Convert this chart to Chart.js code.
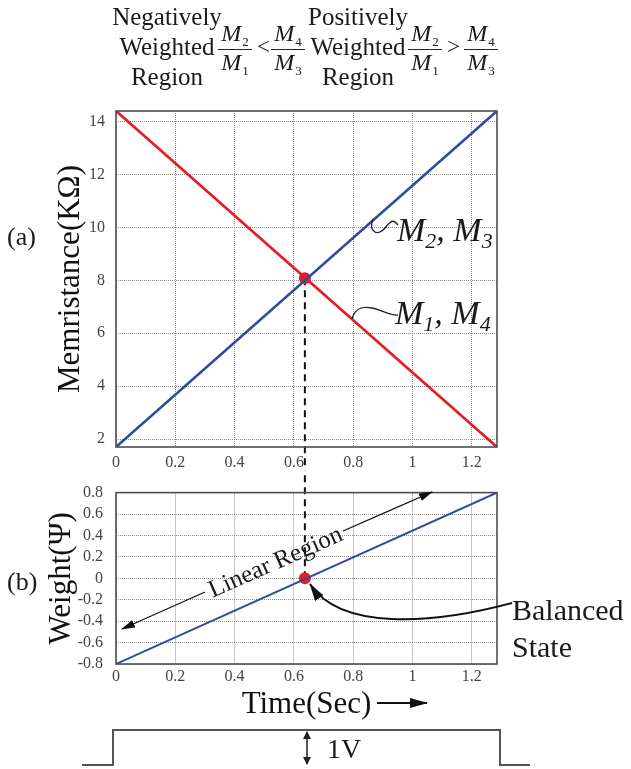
<!DOCTYPE html>
<html>
<head>
<meta charset="utf-8">
<script src="https://cdn.jsdelivr.net/npm/chart.js@4/dist/chart.umd.min.js"></script>
<style>
  html, body { margin: 0; padding: 0; background: #fff; }
  #page { position: relative; width: 631px; height: 769px; overflow: hidden;
          font-family: 'Liberation Serif', 'Times New Roman', serif; color: #1a1a1a; }
  canvas { position: absolute; left: 0; }
  #chartA { top: 0; }
  #chartB { top: 470px; }
  #marks { position: absolute; left: 0; top: 0; pointer-events: none; }
  .txt { position: absolute; white-space: nowrap; }
  .head { font-size: 25px; line-height: 30px; text-align: center; width: 130px; top: 2px; }
  .frac { position: absolute; width: 34px; top: 22px; text-align: center; font-size: 24px; line-height: 23px; }
  .frac .n { display: block; border-bottom: 1.2px solid #222; padding-bottom: 1px; }
  .frac .d { display: block; padding-top: 1px; }
  .frac sub { font-size: 13px; vertical-align: baseline; position: relative; top: 5px; margin-left: 1px; }
  .cmp { font-size: 23px; line-height: 22px; top: 36px; }
  .tag { font-size: 26px; line-height: 30px; }
  .mlab { font-size: 34px; line-height: 34px; font-style: italic; }
  .mlab sub { font-size: 22px; vertical-align: baseline; position: relative; top: 7px; }
</style>
</head>
<body>
<div id="page">
  <canvas id="chartA" width="631" height="470"></canvas>
  <canvas id="chartB" width="631" height="299"></canvas>

  <svg id="marks" width="631" height="769" viewBox="0 0 631 769">
    <defs>
      <marker id="headS" viewBox="0 0 14 8" refX="13" refY="4" markerWidth="14" markerHeight="8" markerUnits="userSpaceOnUse" orient="auto"><path d="M0,0 L14,4 L0,8 z" fill="#111"/></marker>
      <marker id="headL" viewBox="0 0 18 10" refX="17" refY="5" markerWidth="18" markerHeight="10" markerUnits="userSpaceOnUse" orient="auto"><path d="M0,0 L18,5 L0,10 z" fill="#111"/></marker>
      <marker id="headT" viewBox="0 0 8 8" refX="7" refY="4" markerWidth="8" markerHeight="8" markerUnits="userSpaceOnUse" orient="auto-start-reverse"><path d="M0,0 L8,4 L0,8 z" fill="#222"/></marker>
    </defs>
    <!-- leaders to the curve labels -->
    <path d="M373 219 C368 232 378 237 385 228 S394 220 398 225" fill="none" stroke="#222" stroke-width="1.3"/>
    <path d="M352 319 C355 308 362 306 372 308 S390 316 398 315" fill="none" stroke="#222" stroke-width="1.3"/>
    <!-- linear region arrow -->
    <line x1="205" y1="592" x2="122" y2="629" stroke="#111" stroke-width="1.3" marker-end="url(#headS)"/>
    <line x1="343" y1="531" x2="432" y2="492" stroke="#111" stroke-width="1.3" marker-end="url(#headS)"/>
    <!-- balanced state arrow -->
    <path d="M512 603 C430 625 340 630 310 584" fill="none" stroke="#111" stroke-width="2" marker-end="url(#headL)"/>
    <!-- time arrow -->
    <line x1="377" y1="703" x2="427" y2="703" stroke="#111" stroke-width="2.2" marker-end="url(#headL)"/>
    <!-- input pulse -->
    <polyline points="82,765 113,765 113,730 500,730 500,765 530,765" fill="none" stroke="#555" stroke-width="2"/>
    <line x1="307" y1="732" x2="307" y2="764" stroke="#222" stroke-width="1.5" marker-start="url(#headT)" marker-end="url(#headT)"/>
  </svg>

  <div class="txt head" style="left:102px;">Negatively<br>Weighted<br>Region</div>
  <div class="frac" style="left:218px;"><span class="n"><i>M</i><sub>2</sub></span><span class="d"><i>M</i><sub>1</sub></span></div>
  <div class="txt cmp" style="left:257px;">&lt;</div>
  <div class="frac" style="left:271px;"><span class="n"><i>M</i><sub>4</sub></span><span class="d"><i>M</i><sub>3</sub></span></div>
  <div class="txt head" style="left:293px;">Positively<br>Weighted<br>Region</div>
  <div class="frac" style="left:408px;"><span class="n"><i>M</i><sub>2</sub></span><span class="d"><i>M</i><sub>1</sub></span></div>
  <div class="txt cmp" style="left:447px;">&gt;</div>
  <div class="frac" style="left:464px;"><span class="n"><i>M</i><sub>4</sub></span><span class="d"><i>M</i><sub>3</sub></span></div>

  <div class="txt tag" style="left:7px; top:222px;">(a)</div>
  <div class="txt tag" style="left:7px; top:567px;">(b)</div>

  <div class="txt mlab" style="left:397px; top:213px;">M<sub>2</sub>, M<sub>3</sub></div>
  <div class="txt mlab" style="left:395px; top:296px;">M<sub>1</sub>, M<sub>4</sub></div>

  <div class="txt" style="left:275px; top:561px; font-size:25px; line-height:25px; transform:translate(-50%,-50%) rotate(-23.8deg);">Linear Region</div>
  <div class="txt" style="left:512px; top:591px; font-size:30px; line-height:37px;">Balanced<br>State</div>
  <div class="txt" style="left:327px; top:735px; font-size:28px; line-height:28px;">1V</div>
</div>

<script>
// time axis (s)
const timeSpan = [0, 1.285];
// memristance (kOhm) at the start and end of the pulse
const memM1M4 = [14.4, 1.7];
const memM2M3 = [1.7, 14.4];
// synaptic weight
const weightSeries = [-0.8, 0.8];
// balanced state
const balancedTime = 0.637;
const balancedMem = 8.08;
const balancedWeight = 0;

const timeTicks = [0, 0.2, 0.4, 0.6, 0.8, 1, 1.2];
const memTicks = [2, 4, 6, 8, 10, 12, 14];
const weightTicks = [-0.8, -0.6, -0.4, -0.2, 0, 0.2, 0.4, 0.6, 0.8];

const red = '#e41e26';
const blue = '#2f4c9e';
const serif = 'Liberation Serif';

function toPoints(xs, ys) {
    return xs.map((x, i) => ({ x: x, y: ys[i] }));
}

function useTicks(values) {
    return scale => { scale.ticks = values.map(v => ({ value: v })); };
}

const tickFont = { family: serif, size: 16 };
const gridStyle = { color: '#8f8f8f', lineWidth: 1, drawTicks: false };
const gridBorder = { display: false, dash: [1, 1] };

// box round the plot area
const boxPlugin = {
    id: 'box',
    afterDraw(chart) {
        const { ctx, chartArea: a } = chart;
        ctx.save();
        ctx.strokeStyle = '#4d4d4d';
        ctx.lineWidth = 1.6;
        ctx.strokeRect(a.left, a.top, a.right - a.left, a.bottom - a.top);
        ctx.restore();
    }
};

// dashed line joining the two balanced points
function guide(yValue, downward) {
    return {
        id: 'guide',
        beforeDatasetsDraw(chart) {
            const { ctx, scales } = chart;
            const px = scales.x.getPixelForValue(balancedTime);
            const py = scales.y.getPixelForValue(yValue);
            ctx.save();
            ctx.setLineDash([7, 5]);
            ctx.strokeStyle = '#111';
            ctx.lineWidth = 2;
            ctx.beginPath();
            ctx.moveTo(px, py);
            ctx.lineTo(px, downward ? chart.height : 0);
            ctx.stroke();
            ctx.restore();
        }
    };
}

// (a) memristance
new Chart(document.getElementById('chartA'), {
    type: 'line',
    data: {
        datasets: [
            { data: toPoints(timeSpan, memM2M3), borderColor: blue, borderWidth: 2.6, pointRadius: 0 },
            { data: toPoints(timeSpan, memM1M4), borderColor: red, borderWidth: 2.8, pointRadius: 0 },
            { data: [{ x: balancedTime, y: balancedMem }], showLine: false, pointRadius: 6,
              pointBackgroundColor: red, pointBorderWidth: 0 }
        ]
    },
    options: {
        responsive: false,
        animation: false,
        layout: { padding: { left: 0, top: 111, right: 134, bottom: 0 } },
        plugins: { legend: { display: false }, tooltip: { enabled: false } },
        scales: {
            x: {
                type: 'linear', min: timeSpan[0], max: timeSpan[1],
                afterBuildTicks: useTicks(timeTicks),
                afterFit: s => { s.height = 23; },
                grid: gridStyle, border: gridBorder,
                ticks: { font: tickFont, color: '#444', padding: 6, maxRotation: 0, autoSkip: false, callback: v => String(v) }
            },
            y: {
                min: 1.7, max: 14.4,
                afterBuildTicks: useTicks(memTicks),
                afterFit: s => { s.width = 116; },
                grid: gridStyle, border: gridBorder,
                ticks: { font: tickFont, color: '#444', padding: 11, autoSkip: false, callback: v => String(v) },
                title: { display: true, text: 'Memristance(KΩ)', color: '#111',
                         font: { family: serif, size: 31 }, padding: { top: 52, bottom: 0 } }
            }
        }
    },
    plugins: [boxPlugin, guide(balancedMem, true)]
});

// (b) weight
new Chart(document.getElementById('chartB'), {
    type: 'line',
    data: {
        datasets: [
            { data: toPoints(timeSpan, weightSeries), borderColor: blue, borderWidth: 2, pointRadius: 0 },
            { data: [{ x: balancedTime, y: balancedWeight }], showLine: false, pointRadius: 6,
              pointBackgroundColor: red, pointBorderWidth: 0 }
        ]
    },
    options: {
        responsive: false,
        animation: false,
        layout: { padding: { left: 0, top: 22, right: 134, bottom: 0 } },
        plugins: { legend: { display: false }, tooltip: { enabled: false } },
        scales: {
            x: {
                type: 'linear', min: timeSpan[0], max: timeSpan[1],
                afterBuildTicks: useTicks(timeTicks),
                afterFit: s => { s.height = 105; },
                grid: gridStyle, border: gridBorder,
                ticks: { font: tickFont, color: '#444', padding: 3, maxRotation: 0, autoSkip: false, callback: v => String(v) },
                title: { display: true, text: 'Time(Sec)', color: '#111',
                         font: { family: serif, size: 31 }, padding: { top: 0, bottom: 46 } }
            },
            y: {
                min: -0.8, max: 0.8,
                afterBuildTicks: useTicks(weightTicks),
                afterFit: s => { s.width = 116; },
                grid: gridStyle, border: gridBorder,
                ticks: { font: tickFont, color: '#444', padding: 13, autoSkip: false, callback: v => String(v) },
                title: { display: true, text: 'Weight(Ψ)', color: '#111',
                         font: { family: serif, size: 31 }, padding: { top: 43, bottom: 0 } }
            }
        }
    },
    plugins: [boxPlugin, guide(balancedWeight, false)]
});
</script>
</body>
</html>
